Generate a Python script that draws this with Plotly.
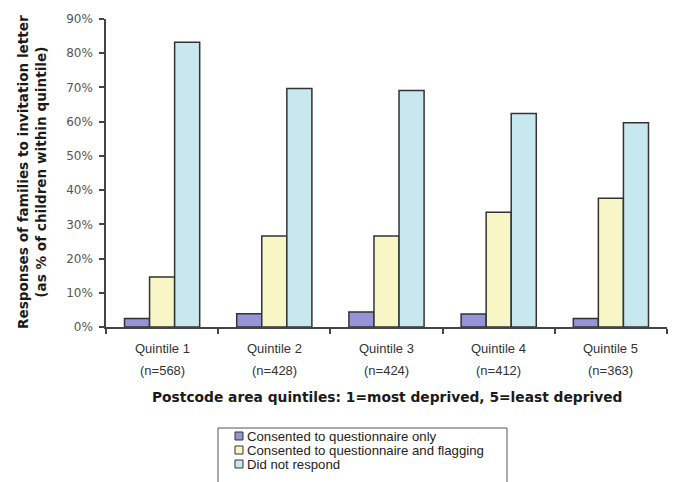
import plotly.graph_objects as go

quintile_labels = ["Quintile 1", "Quintile 2", "Quintile 3", "Quintile 4", "Quintile 5"]
n_labels = ["(n=568)", "(n=428)", "(n=424)", "(n=412)", "(n=363)"]
series_names = ["Consented to questionnaire only",
                "Consented to questionnaire and flagging",
                "Did not respond"]
questionnaire_only = [2.5, 3.9, 4.4, 3.8, 2.5]
questionnaire_flagging = [14.6, 26.6, 26.6, 33.5, 37.6]
did_not_respond = [83.2, 69.7, 69.1, 62.4, 59.7]
y_ticks = [0, 10, 20, 30, 40, 50, 60, 70, 80, 90]
x_title = "Postcode area quintiles: 1=most deprived, 5=least deprived"
y_title = "Responses of families to invitation letter<br>(as % of children within quintile)"

colors = ["#9494d6", "#f8f6c6", "#c8e8f0"]
W, H = 673, 482
L, R, T, B = 106, 6, 19, 155
PW, PH = W - L - R, H - T - B


def px(x):
    return (x - L) / PW


def py(y):
    return (H - B - y) / PH


fig = go.Figure()
for name, vals, c in zip(series_names, [questionnaire_only, questionnaire_flagging, did_not_respond], colors):
    fig.add_trace(go.Bar(x=quintile_labels, y=vals, name=name, showlegend=False,
                         marker=dict(color=c, line=dict(color="#333333", width=1.5))))

annotations = []
for q, n in zip(quintile_labels, n_labels):
    annotations.append(dict(x=q, xref="x", y=py(348), yref="paper", text=q, showarrow=False,
                            xanchor="center", yanchor="middle",
                            font=dict(family="Liberation Sans, Arial", size=13, color="#333333")))
    annotations.append(dict(x=q, xref="x", y=py(370), yref="paper", text=n, showarrow=False,
                            xanchor="center", yanchor="middle",
                            font=dict(family="Liberation Sans, Arial", size=13, color="#333333")))

annotations.append(dict(x=px(387), xref="paper", y=py(397), yref="paper", text=f"<b>{x_title}</b>",
                        showarrow=False, xanchor="center", yanchor="middle",
                        font=dict(family="DejaVu Sans", size=13.8, color="#1a1a1a")))
annotations.append(dict(x=px(32), xref="paper", y=py(172), yref="paper", text=f"<b>{y_title}</b>",
                        showarrow=False, xanchor="center", yanchor="middle", textangle=-90,
                        font=dict(family="DejaVu Sans", size=13.6, color="#1a1a1a")))

# legend box
shapes = [dict(type="rect", xref="paper", yref="paper", x0=px(218), x1=px(507), y0=py(428), y1=py(495),
               line=dict(color="#555555", width=1), fillcolor="white", layer="below")]
for i, (name, c) in enumerate(zip(series_names, colors)):
    yc = 436 + 14 * i
    shapes.append(dict(type="rect", xref="paper", yref="paper", x0=px(235), x1=px(243),
                       y0=py(yc - 4), y1=py(yc + 4), line=dict(color="#333333", width=1), fillcolor=c))
    annotations.append(dict(x=px(245), xref="paper", y=py(yc), yref="paper", text=name, showarrow=False,
                            xanchor="left", yanchor="middle",
                            font=dict(family="Liberation Sans, Arial", size=13.2, color="#222222")))

fig.update_layout(
    width=W, height=H,
    margin=dict(l=L, r=R, t=T, b=B),
    paper_bgcolor="white", plot_bgcolor="white",
    barmode="group", bargap=0.33, bargroupgap=0,
    font=dict(family="Liberation Sans, Arial", size=12, color="#333333"),
    showlegend=False,
    annotations=annotations,
    shapes=shapes,
    xaxis=dict(showline=True, linecolor="#444444", linewidth=1.5, ticks="outside",
               tickson="boundaries", ticklen=5, tickcolor="#444444", tickwidth=1.5,
               showticklabels=False, automargin=False),
    yaxis=dict(range=[0, 90], tickvals=y_ticks, ticktext=[f"{v}%" for v in y_ticks],
               showline=True, linecolor="#444444", linewidth=1.5, ticks="outside",
               ticklen=5, tickcolor="#444444", tickwidth=1.5, showgrid=False, zeroline=False,
               automargin=False, ticklabelstandoff=4,
               tickfont=dict(family="DejaVu Sans", size=12, color="#555555")),
)
fig.write_html("out.html", config={"displayModeBar": False},
               post_script="document.body.style.margin='0';document.body.style.overflow='hidden';")
